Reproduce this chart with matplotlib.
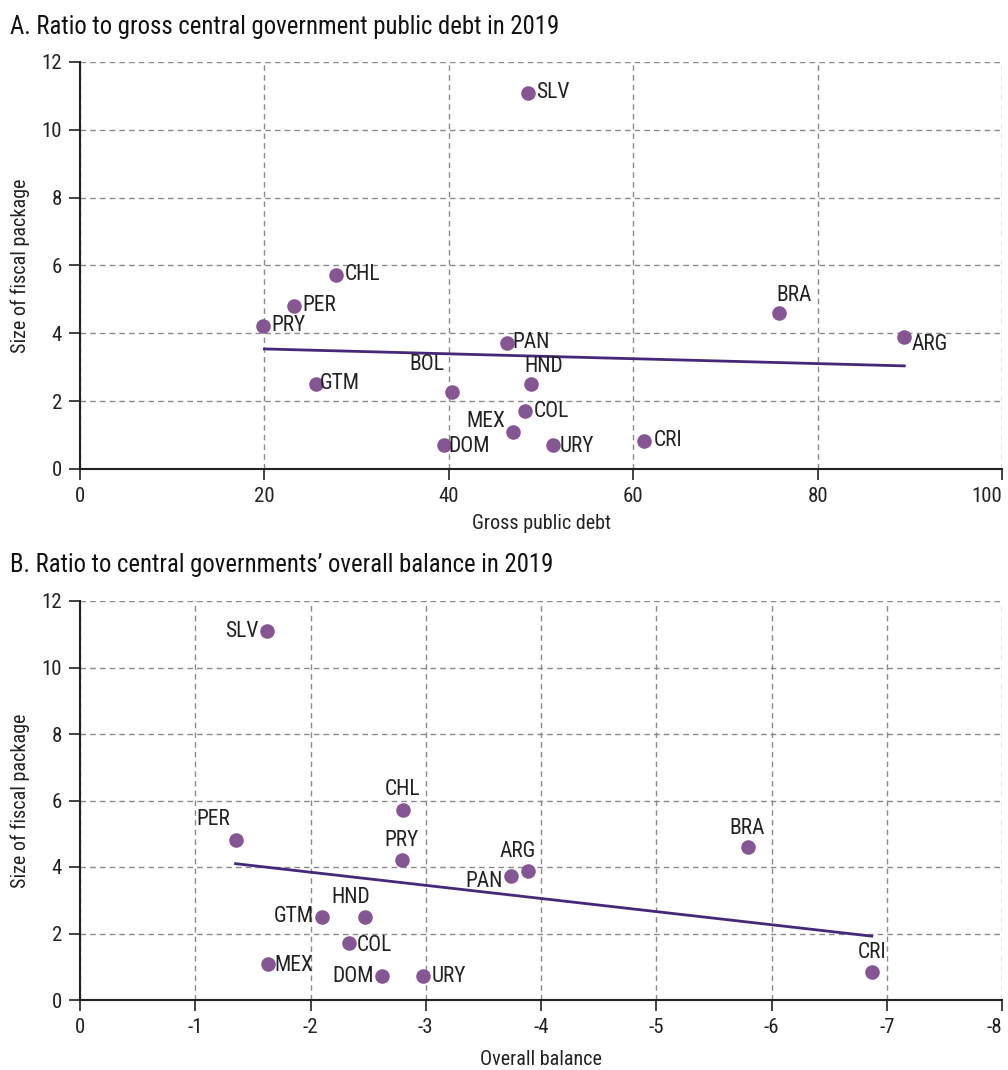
import matplotlib
matplotlib.use("Agg")
import matplotlib.pyplot as plt
import numpy as np
from matplotlib import font_manager

names = {f.name for f in font_manager.fontManager.ttflist}
fam = [n for n in ["Liberation Sans Narrow", "Roboto Condensed", "Liberation Sans"] if n in names] + ["DejaVu Sans"]
plt.rcParams['font.family'] = fam

# Panel A data
a_countries = ["SLV", "CHL", "PER", "PRY", "GTM", "BOL", "PAN", "HND", "COL", "MEX", "DOM", "URY", "CRI", "BRA", "ARG"]
a_debt = [48.6, 27.8, 23.2, 19.8, 25.6, 40.3, 46.3, 48.9, 48.3, 47.0, 39.5, 51.3, 61.2, 75.8, 89.4]
a_size = [11.09, 5.72, 4.81, 4.22, 2.51, 2.27, 3.72, 2.51, 1.71, 1.09, 0.71, 0.71, 0.83, 4.60, 3.89]
a_trend_x = [20.0, 89.4]
a_trend_y = [3.54, 3.04]

# Panel B data
b_countries = ["SLV", "PER", "CHL", "PRY", "ARG", "PAN", "BRA", "GTM", "HND", "COL", "MEX", "DOM", "URY", "CRI"]
b_balance = [-1.62, -1.35, -2.80, -2.79, -3.89, -3.74, -5.80, -2.10, -2.47, -2.33, -1.63, -2.62, -2.98, -6.87]
b_size = [11.09, 4.81, 5.72, 4.22, 3.89, 3.72, 4.60, 2.51, 2.51, 1.71, 1.09, 0.71, 0.71, 0.83]
b_trend_x = [-1.35, -6.87]
b_trend_y = [4.10, 1.92]

a_ticks_x = [0, 20, 40, 60, 80, 100]
b_ticks_x = [0, -1, -2, -3, -4, -5, -6, -7, -8]
y_ticks = [0, 2, 4, 6, 8, 10, 12]

# label offsets in points (dx, dy) and alignment
a_pos = {
    "SLV": (6, 0, "left", "center"), "CHL": (6, 0, "left", "center"), "PER": (6, 0, "left", "center"),
    "PRY": (6, 0, "left", "center"), "GTM": (3, 0, "left", "center"), "BOL": (-5, 12, "right", "bottom"),
    "PAN": (4, 0, "left", "center"), "HND": (9, 5, "center", "bottom"), "COL": (6, 0, "left", "center"),
    "MEX": (-6, 0, "right", "bottom"), "DOM": (3, -1, "left", "center"), "URY": (5, -1, "left", "center"),
    "CRI": (7, 0, "left", "center"), "BRA": (11, 5, "center", "bottom"), "ARG": (5, -5, "left", "center"),
}
b_pos = {
    "SLV": (-6, 0, "right", "center"), "PER": (-4, 7, "right", "bottom"), "CHL": (0, 7, "center", "bottom"),
    "PRY": (0, 6, "center", "bottom"), "ARG": (-8, 6, "center", "bottom"), "PAN": (-6, -4, "right", "center"),
    "BRA": (-1, 6, "center", "bottom"), "GTM": (-6, 0, "right", "center"), "HND": (-10, 6, "center", "bottom"),
    "COL": (6, -2, "left", "center"), "MEX": (5, -1, "left", "center"), "DOM": (-6, 0, "right", "center"),
    "URY": (6, 0, "left", "center"), "CRI": (0, 7, "center", "bottom"),
}

dot_color = "#865594"
line_color = "#46287a"
grid_color = "#8a8a8a"
txt = "#222222"

fig = plt.figure(figsize=(10.08, 10.70), dpi=100)
axA = fig.add_axes([80/1008, 1-469/1070, 922/1008, 407/1070])
axB = fig.add_axes([80/1008, 1-1000/1070, 922/1008, 399/1070])

def style(ax, xticks, xlim):
    ax.set_xlim(*xlim)
    ax.set_ylim(0, 12)
    ax.set_xticks(xticks)
    ax.set_yticks(y_ticks)
    ax.set_xticklabels([str(t) for t in xticks])
    ax.grid(True, linestyle=(0, (4, 3)), color=grid_color, linewidth=1)
    ax.set_axisbelow(True)
    for s in ["top", "right"]:
        ax.spines[s].set_visible(False)
    for s in ["left", "bottom"]:
        ax.spines[s].set_color(txt)
        ax.spines[s].set_linewidth(1.5)
    ax.tick_params(direction="out", length=8, width=1.2, color=txt, labelsize=15, labelcolor=txt, pad=5)
    ax.set_ylabel("Size of fiscal package", fontsize=14.5, color=txt, labelpad=8)
    # keep the last x tick label inside the figure
    lbls = ax.get_xticklabels()
    lbls[-1].set_horizontalalignment("right")

style(axA, a_ticks_x, (0, 100))
axA.scatter(a_debt, a_size, s=110, color=dot_color, zorder=3, linewidths=0)
axA.plot(a_trend_x, a_trend_y, color=line_color, linewidth=2, zorder=2)
for c, x, y in zip(a_countries, a_debt, a_size):
    dx, dy, ha, va = a_pos[c]
    axA.annotate(c, (x, y), xytext=(dx, dy), textcoords="offset points", ha=ha, va=va, fontsize=15.5, color=txt, zorder=4)
axA.set_xlabel("Gross public debt", fontsize=14.5, color=txt, labelpad=6)

style(axB, b_ticks_x, (0, -8))
axB.scatter(b_balance, b_size, s=110, color=dot_color, zorder=3, linewidths=0)
axB.plot(b_trend_x, b_trend_y, color=line_color, linewidth=2, zorder=2)
for c, x, y in zip(b_countries, b_balance, b_size):
    dx, dy, ha, va = b_pos[c]
    axB.annotate(c, (x, y), xytext=(dx, dy), textcoords="offset points", ha=ha, va=va, fontsize=15.5, color=txt, zorder=4)
axB.set_xlabel("Overall balance", fontsize=14.5, color=txt, labelpad=9)

fig.text(10/1008, 1-27/1070, "A. Ratio to gross central government public debt in 2019", fontsize=17.8, color="#111111", ha="left", va="center")
fig.text(10/1008, 1-565/1070, "B. Ratio to central governments\u2019 overall balance in 2019", fontsize=17.8, color="#111111", ha="left", va="center")

fig.savefig("out.png", dpi=100)
